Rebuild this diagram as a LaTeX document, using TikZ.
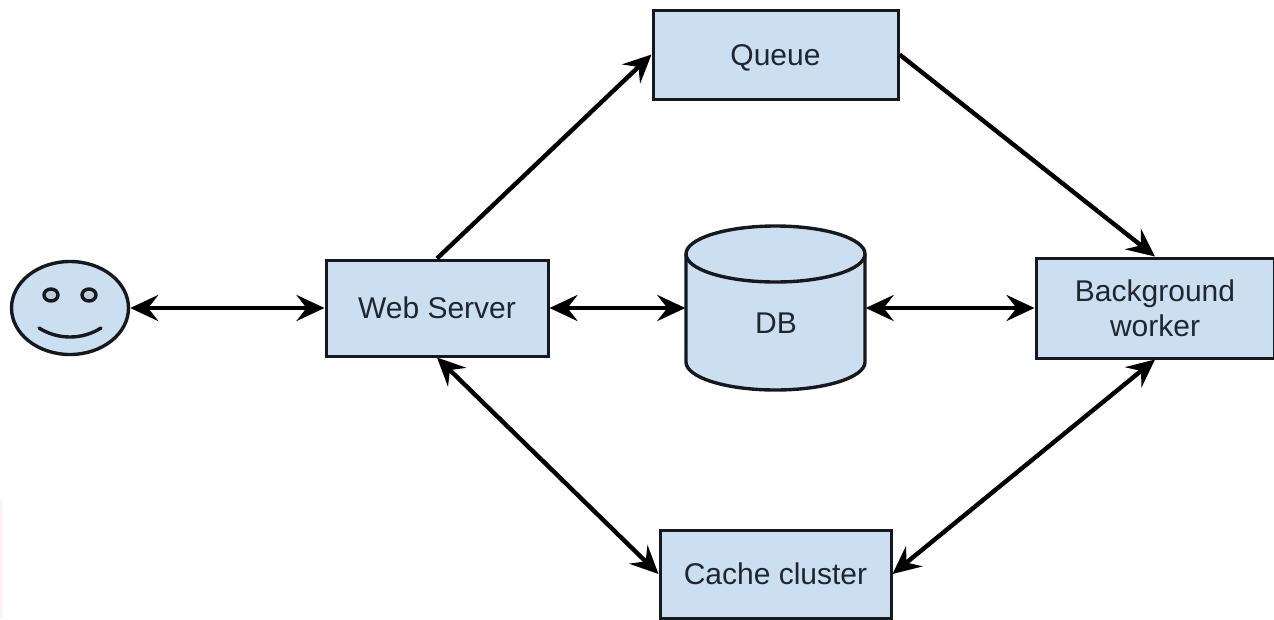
\documentclass[tikz,border=0pt]{standalone}
\usepackage{fontspec}
\setmainfont{Liberation Sans}
\usetikzlibrary{arrows.meta,shapes.geometric}
\definecolor{boxfill}{HTML}{CCDFF1}
\definecolor{ink}{HTML}{15191E}
\definecolor{txt}{HTML}{1E2630}
\tikzset{
  box/.style={draw=ink,fill=boxfill,line width=3pt,rectangle,inner sep=0pt,text=txt,align=center,font=\fontsize{30}{35}\selectfont},
  link/.style={draw=black,line width=4.4pt,{Stealth[length=28pt,width=26pt,inset=10pt]}-{Stealth[length=28pt,width=26pt,inset=10pt]}},
  oneway/.style={draw=black,line width=4.4pt,-{Stealth[length=28pt,width=26pt,inset=10pt]}},
  outline/.style={draw=ink,line width=3.4pt},
}
\begin{document}
\begin{tikzpicture}[x=1pt,y=-1pt]
\useasboundingbox (0,0) rectangle (1274,619);
\fill[red!6] (0,500) rectangle (2,619);
% boxes
\node[box,minimum width=245pt,minimum height=89pt,text height=22pt,text depth=0pt] (queue) at (775.5,54.5) {Queue};
\node[box,minimum width=222pt,minimum height=96pt] (web) at (437,308) {Web Server};
\node[box,minimum width=238pt,minimum height=100pt] (bg) at (1155,308) {Background\\worker};
\node[box,minimum width=231pt,minimum height=88pt] (cache) at (775.5,574) {Cache cluster};
% face
\node[ellipse,draw=ink,fill=boxfill,line width=3.4pt,minimum width=117pt,minimum height=93pt,inner sep=0pt] (user) at (70,308) {};
\node[ellipse,draw=ink,fill=boxfill!80!gray,line width=3.4pt,minimum width=14pt,minimum height=12pt,inner sep=0pt] (eyeL) at (51,295) {};
\node[ellipse,draw=ink,fill=boxfill!80!gray,line width=3.4pt,minimum width=14pt,minimum height=12pt,inner sep=0pt] (eyeR) at (89,295) {};
\draw[outline,line cap=round] (39,328) .. controls (58,340) and (82,340) .. (101,328);
% database
\node[minimum width=180pt,minimum height=164pt,inner sep=0pt] (db) at (775.5,308) {};
\filldraw[outline,fill=boxfill] (686,254) -- (686,362) arc[start angle=180,end angle=0,x radius=89.5,y radius=28] -- (865,254);
\filldraw[outline,fill=boxfill] (775.5,254) ellipse[x radius=89.5,y radius=28];
\node[text=txt,font=\fontsize{30}{35}\selectfont,inner sep=0pt] (dblabel) at (776,323) {DB};
% connectors
\draw[link] (user.east) -- (web.west);
\draw[link] (web.east) -- (db.west);
\draw[link] (db.east) -- (bg.west);
\draw[oneway] (web.north) -- (queue.west);
\draw[oneway] (queue.east) -- (bg.north);
\draw[link] (web.south) -- (cache.west);
\draw[link] (bg.south) -- (cache.east);
\end{tikzpicture}
\end{document}
